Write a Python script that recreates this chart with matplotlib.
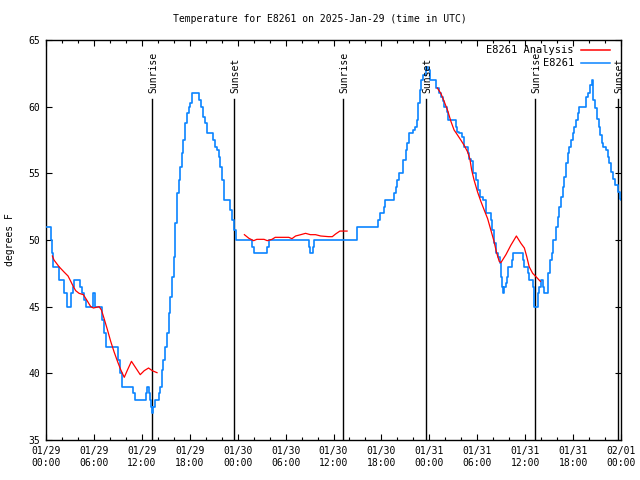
import numpy as np
import matplotlib
matplotlib.use("Agg")
import matplotlib.pyplot as plt

# ---------------- data ----------------
title = "Temperature for E8261 on 2025-Jan-29 (time in UTC)"
ylabel = "degrees F"
obs_name = "E8261"
ana_name = "E8261 Analysis"

# hours since 2025-01-29 00:00 UTC (step start) and observed temperature (F)
obs_hours = [0.0, 0.6, 0.75, 0.85, 1.6, 2.3, 2.6, 3.1, 3.35, 3.55, 4.3, 4.5, 4.8, 5.0,
             5.85, 6.1, 7.06, 7.3, 7.5, 9.05, 9.3, 9.55, 10.95, 11.15, 12.5, 12.7, 12.85,
             13.05, 13.2, 13.3, 13.45, 13.6, 14.1, 14.3, 14.5, 14.7, 14.9, 15.1, 15.35,
             15.56, 15.77, 15.97, 16.19, 16.4, 16.6, 16.8, 17.0, 17.2, 17.4, 17.6, 17.85,
             18.07, 18.28, 19.2, 19.4, 19.7, 19.95, 20.16, 20.95, 21.2, 21.4, 21.6, 21.8,
             22.05, 22.25, 22.33, 23.09, 23.3, 23.5, 23.8,
             25.85, 26.1, 27.7, 27.9, 32.9, 33.1, 33.4, 33.55, 39.0, 41.6, 41.82, 42.3,
             42.45, 43.6, 43.79, 44.0, 44.2, 44.65, 44.75, 45.04, 45.26, 45.46, 46.0,
             46.17, 46.42, 46.64, 46.8, 47.0, 47.26, 47.6, 47.85, 48.1, 48.8, 49.2, 49.44,
             49.65, 49.85, 50.19, 50.35, 51.32, 51.44, 51.73, 52.15, 52.28, 52.86, 52.99,
             53.2, 53.53, 53.82, 54.1, 54.37, 54.7, 55.08, 55.7, 55.83, 56.05, 56.34,
             56.6, 56.88, 56.96, 57.09, 57.17, 57.38, 57.59, 57.72, 57.88, 58.3, 58.5,
             59.68, 59.81, 60.3, 60.5, 60.94, 61.06, 61.14, 61.57, 61.77, 61.98, 62.2,
             62.4, 62.9, 63.1, 63.3, 63.45, 63.86, 64.08, 64.28, 64.5, 64.7, 64.9, 65.12,
             65.33, 65.53, 65.75, 65.96, 66.16, 66.37, 66.58, 66.79, 67.63, 67.85, 68.1,
             68.35, 68.5, 68.7, 69.0, 69.2, 69.4, 69.6, 69.8, 70.1, 70.35, 70.55, 70.8,
             71.0, 71.3, 71.6, 71.85, 72.0]
obs_temps = [51, 50, 49, 48, 47, 46, 45, 46, 46.5, 47, 46.5, 46, 45.5, 45,
             46, 45, 44, 43, 42, 41, 40, 39, 38.5, 38, 38.5, 39, 38.5,
             38, 37.5, 37, 37.5, 38, 38.5, 39, 40.25, 41, 42, 43, 44.5,
             45.75, 47.25, 48.75, 51.25, 53.5, 54.5, 55.5, 56.5, 57.5, 58.75, 59.5, 60,
             60.25, 61, 60.5, 60, 59.25, 58.75, 58, 57.5, 57, 56.75, 56.25, 55.5,
             54.5, 53.5, 53, 52.25, 51.5, 50.75, 50,
             49.5, 49, 49.5, 50, 49.5, 49, 49.5, 50, 51, 51.5, 52, 52.5,
             53, 53.5, 54, 54.5, 55, 55.5, 56, 56.75, 57.25, 58, 58.25,
             58.5, 59, 60.25, 61.25, 62, 62.4, 63, 62.75, 62, 61.4, 61, 60.75,
             60.4, 60, 59.6, 59, 58.5, 58.1, 58, 57.75, 57, 56.5, 56.1,
             55.9, 55, 54.5, 53.75, 53.25, 53, 52, 51.5, 50.75, 49.75, 49,
             48.75, 48.25, 47.25, 46.5, 46, 46.5, 46.75, 47.25, 48, 48.5, 49,
             48.5, 48, 47.5, 47, 46.5, 45.5, 45, 46, 46.5, 47, 46.5,
             46, 47.5, 48.5, 49, 50, 51, 51.75, 52.5, 53.25, 54, 54.75, 55.75,
             56.5, 57, 57.5, 58, 58.5, 59, 59.5, 60, 60.75, 61, 61.6,
             62, 60.5, 59.9, 59.1, 58.5, 57.9, 57.25, 57, 56.75, 56.25, 55.75, 55.1,
             54.6, 54.1, 53.6, 53.1, 53]

# analysis series (NaN separates the three runs)
ana_hours = [0.8, 1.0, 1.63, 2.26, 2.76, 3.1, 3.43, 3.72, 4.14, 4.68, 5.1, 5.6, 5.94,
             6.65, 6.94, 7.28, 7.7, 8.1, 8.53, 8.95, 9.37, 9.8, 10.2, 10.7, 11.25,
             11.8, 12.3, 12.84, 13.3, 13.9, np.nan,
             24.84, 25.4, 26.0, 26.4, 27.3, 27.7, 28.3, 28.7, 30.4, 30.8, 31.25, 31.9,
             32.5, 33.1, 33.75, 34.4, 35.4, 35.85, 36.26, 36.8, 37.7, np.nan,
             49.0, 49.44, 49.85, 50.27, 50.7, 51.1, 51.5, 51.94, 52.36, 52.8, 53.07,
             53.3, 53.6, 54.04, 54.45, 54.87, 55.3, 55.7, 56.1, 56.4, 56.75, 56.96,
             57.59, 58.2, 58.9, 59.47, 59.9, 60.2, 60.5, 60.94, 61.35, 61.9]
ana_temps = [48.8, 48.5, 48.0, 47.6, 47.3, 46.9, 46.5, 46.2, 46.0, 45.9, 45.5, 45.0, 44.9,
             45.0, 44.75, 44.1, 43.25, 42.4, 41.6, 40.9, 40.25, 39.7, 40.25, 40.9, 40.4,
             39.9, 40.2, 40.4, 40.2, 40.05, np.nan,
             50.4, 50.13, 49.95, 50.05, 50.05, 49.95, 50.05, 50.2, 50.2, 50.1, 50.3, 50.4,
             50.5, 50.4, 50.4, 50.3, 50.25, 50.25, 50.45, 50.67, 50.67, np.nan,
             61.4, 61.0, 60.4, 59.75, 58.9, 58.25, 57.9, 57.5, 57.1, 56.6, 56.1,
             55.25, 54.5, 53.6, 52.9, 52.25, 51.6, 50.75, 49.9, 49.1, 48.4, 48.3,
             48.9, 49.6, 50.3, 49.75, 49.4, 48.75, 48.0, 47.5, 47.25, 46.9]

# sun events (hours since start)
sun_hours = [13.3, 23.57, 37.2, 47.56, 61.24, 71.63]
sun_labels = ["Sunrise", "Sunset", "Sunrise", "Sunset", "Sunrise", "Sunset"]

xtick_hours = [0, 6, 12, 18, 24, 30, 36, 42, 48, 54, 60, 66, 72]
xtick_labels = ["01/29\n00:00", "01/29\n06:00", "01/29\n12:00", "01/29\n18:00",
                "01/30\n00:00", "01/30\n06:00", "01/30\n12:00", "01/30\n18:00",
                "01/31\n00:00", "01/31\n06:00", "01/31\n12:00", "01/31\n18:00",
                "02/01\n00:00"]
yticks = [35, 40, 45, 50, 55, 60, 65]

# ---------------- style ----------------
FONT = "DejaVu Sans Mono"
FS = 7
plt.rcParams['font.family'] = [FONT]
BLUE = "#0a84ff"
RED = "#ff0000"

fig = plt.figure(figsize=(6.4, 4.8), dpi=100)
ax = fig.add_axes([46/640, 40/480, 575/640, 400/480])

ax.plot(obs_hours, obs_temps, drawstyle='steps-post', color=BLUE, lw=1.2, zorder=3)
ax.plot(ana_hours, ana_temps, color=RED, lw=0.9, zorder=4)

ax.set_xlim(0, 72)
ax.set_ylim(35, 65)

ymax_line = (440 - 99) / 400
for h, lab in zip(sun_hours, sun_labels):
    ax.axvline(h, ymin=0, ymax=ymax_line, color='black', lw=1.0, zorder=2)
    ax.text(h + 0.15, ymax_line + 0.015, lab, rotation=90, ha='center', va='bottom',
            fontsize=FS, family=FONT, transform=ax.get_xaxis_transform())

ax.set_xticks(xtick_hours)
ax.set_xticklabels(xtick_labels, fontsize=FS, family=FONT, linespacing=1.25)
ax.set_xticks(np.arange(0, 73, 2), minor=True)
ax.set_yticks(yticks)
ax.set_yticklabels([str(v) for v in yticks], fontsize=FS, family=FONT)

ax.tick_params(axis='both', which='major', direction='in', length=4.5, width=0.8,
               top=True, right=True, pad=4)
ax.tick_params(axis='both', which='minor', direction='in', length=2.5, width=0.8,
               top=True, right=True)
ax.tick_params(axis='y', which='minor', left=False, right=False)
for s in ax.spines.values():
    s.set_linewidth(1.0)

fig.text(0.5, 1 - 19/480, title, ha='center', va='center', fontsize=FS, family=FONT)
fig.text(10/640, 0.5, ylabel, rotation=90, ha='center', va='center', fontsize=FS, family=FONT)

# gnuplot-style legend: right-aligned text, sample line to the right
leg_rows = [(ana_name, RED, (440 - 50) / 400), (obs_name, BLUE, (440 - 63) / 400)]
for name, col, yy in leg_rows:
    ax.text(0.918, yy, name, ha='right', va='center', fontsize=FS + 0.5, family=FONT,
            transform=ax.transAxes, zorder=5)
    ax.plot([0.930, 0.981], [yy, yy], color=col, lw=1.1, transform=ax.transAxes,
            zorder=5)

fig.savefig("out.png", dpi=100)
